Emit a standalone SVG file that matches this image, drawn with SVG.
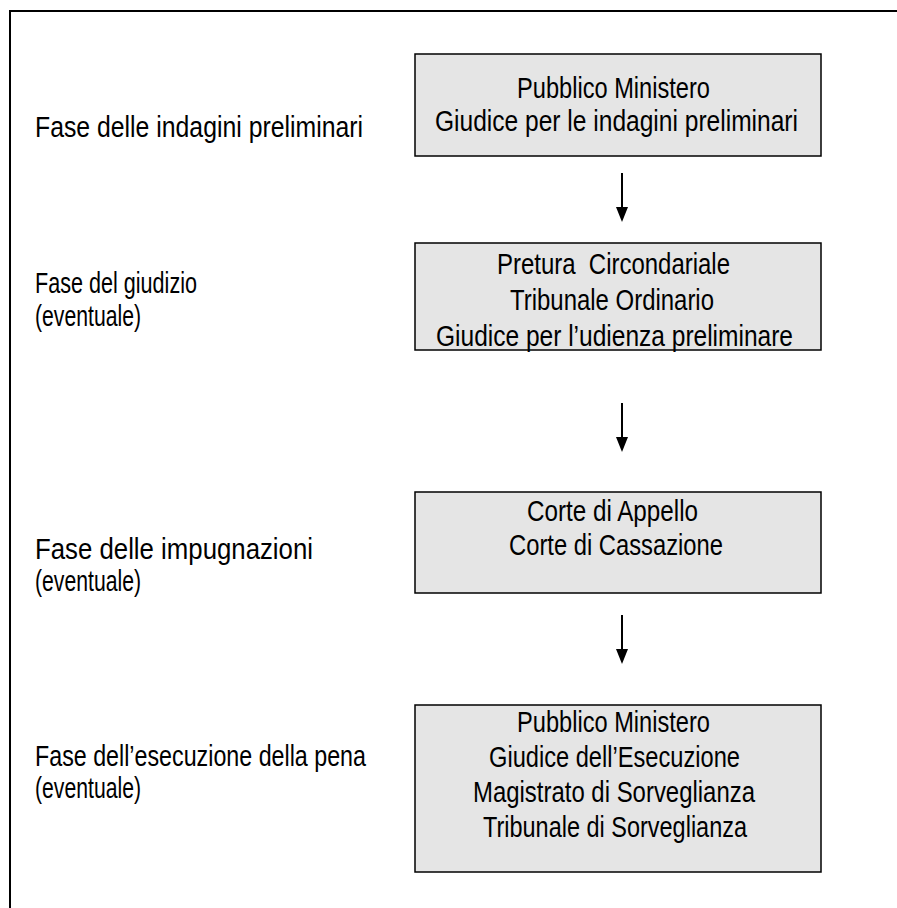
<svg xmlns="http://www.w3.org/2000/svg" width="897" height="908" viewBox="0 0 897 908">
  <style>
    .box { fill: #e5e5e5; stroke: #000; stroke-width: 1.5; }
    .t { font-family: "Liberation Sans", Arial, sans-serif; font-size: 29px; fill: #000; }
    .flow { stroke: #000; stroke-width: 2; fill: none; }
    .head { fill: #000; stroke: none; }
  </style>

  <!-- page frame (open at right and bottom) -->
  <path d="M10,908 V11 H897" fill="none" stroke="#000" stroke-width="2"/>

  <!-- phase labels -->
  <g id="phase-labels">
    <text class="t" x="35" y="137" textLength="328" lengthAdjust="spacingAndGlyphs">Fase delle indagini preliminari</text>
    <text class="t" x="35" y="293" textLength="162" lengthAdjust="spacingAndGlyphs">Fase del giudizio</text>
    <text class="t" x="35" y="326" textLength="106" lengthAdjust="spacingAndGlyphs">(eventuale)</text>
    <text class="t" x="35" y="559" textLength="278" lengthAdjust="spacingAndGlyphs">Fase delle impugnazioni</text>
    <text class="t" x="35" y="591" textLength="106" lengthAdjust="spacingAndGlyphs">(eventuale)</text>
    <text class="t" x="35" y="766" textLength="331" lengthAdjust="spacingAndGlyphs">Fase dell’esecuzione della pena</text>
    <text class="t" x="35" y="798" textLength="106" lengthAdjust="spacingAndGlyphs">(eventuale)</text>
  </g>

  <g id="node-indagini">
    <rect class="box" x="415" y="54" width="406" height="102"/>
    <text class="t" x="517" y="98" textLength="193" lengthAdjust="spacingAndGlyphs">Pubblico Ministero</text>
    <text class="t" x="435" y="131" textLength="363" lengthAdjust="spacingAndGlyphs">Giudice per le indagini preliminari</text>
  </g>

  <g id="node-giudizio">
    <rect class="box" x="415" y="243" width="406" height="107"/>
    <text class="t" x="497" y="274" textLength="233" lengthAdjust="spacingAndGlyphs" xml:space="preserve">Pretura  Circondariale</text>
    <text class="t" x="510" y="310" textLength="204" lengthAdjust="spacingAndGlyphs">Tribunale Ordinario</text>
    <text class="t" x="436" y="346" textLength="357" lengthAdjust="spacingAndGlyphs">Giudice per l’udienza preliminare</text>
  </g>

  <g id="node-impugnazioni">
    <rect class="box" x="415" y="492" width="406" height="101"/>
    <text class="t" x="527" y="521" textLength="171" lengthAdjust="spacingAndGlyphs">Corte di Appello</text>
    <text class="t" x="509" y="555" textLength="214" lengthAdjust="spacingAndGlyphs">Corte di Cassazione</text>
  </g>

  <g id="node-esecuzione">
    <rect class="box" x="415" y="705" width="406" height="167"/>
    <text class="t" x="517" y="732" textLength="193" lengthAdjust="spacingAndGlyphs">Pubblico Ministero</text>
    <text class="t" x="489" y="767" textLength="251" lengthAdjust="spacingAndGlyphs">Giudice dell’Esecuzione</text>
    <text class="t" x="473" y="802" textLength="282" lengthAdjust="spacingAndGlyphs">Magistrato di Sorveglianza</text>
    <text class="t" x="483" y="837" textLength="264" lengthAdjust="spacingAndGlyphs">Tribunale di Sorveglianza</text>
  </g>

  <g id="connectors">
    <line class="flow" x1="622" y1="173" x2="622" y2="209"/>
    <path class="head" d="M616,207 H628 L622,222 Z"/>
    <line class="flow" x1="622" y1="403" x2="622" y2="439"/>
    <path class="head" d="M616,437 H628 L622,452 Z"/>
    <line class="flow" x1="622" y1="615" x2="622" y2="651"/>
    <path class="head" d="M616,649 H628 L622,664 Z"/>
  </g>
</svg>
